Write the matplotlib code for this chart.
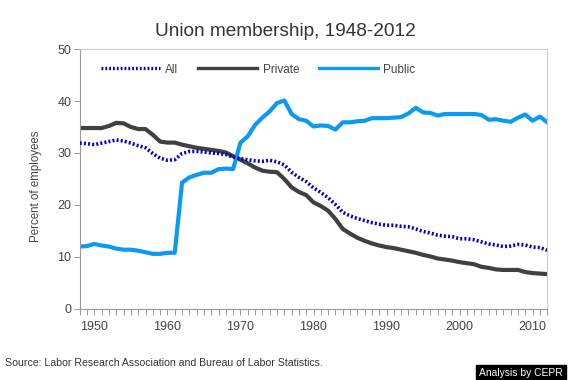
import matplotlib
matplotlib.use("Agg")
import matplotlib.pyplot as plt
from matplotlib.ticker import MultipleLocator

plt.rcParams['font.family'] = ['Liberation Sans', 'DejaVu Sans']

years = list(range(1948, 2013))

all_workers = [31.9, 31.8, 31.6, 31.9, 32.2, 32.5, 32.3, 31.9, 31.4, 31.0,
               29.9, 29.0, 28.6, 28.7, 29.9, 30.3, 30.3, 30.2, 30.0, 29.9,
               29.7, 29.2, 28.9, 28.7, 28.5, 28.4, 28.6, 28.3, 27.7, 26.3,
               25.3, 24.5, 23.3, 22.4, 21.4, 20.1, 18.6, 17.9, 17.4, 17.0,
               16.6, 16.3, 16.1, 16.1, 15.9, 15.8, 15.4, 14.9, 14.6, 14.2,
               14.0, 13.9, 13.5, 13.5, 13.3, 12.9, 12.5, 12.3, 12.0, 12.1,
               12.4, 12.3, 11.9, 11.8, 11.3]

private = [34.8, 34.8, 34.8, 34.8, 35.2, 35.8, 35.7, 35.0, 34.6, 34.6,
           33.5, 32.2, 32.0, 32.0, 31.6, 31.3, 31.0, 30.8, 30.6, 30.4,
           30.1, 29.4, 28.7, 28.0, 27.2, 26.6, 26.4, 26.3, 25.0, 23.4,
           22.5, 21.9, 20.5, 19.8, 18.9, 17.3, 15.4, 14.5, 13.7, 13.1,
           12.6, 12.2, 11.9, 11.7, 11.4, 11.1, 10.8, 10.4, 10.1, 9.7,
           9.5, 9.3, 9.0, 8.8, 8.6, 8.1, 7.9, 7.6, 7.5, 7.5,
           7.5, 7.1, 6.9, 6.8, 6.7]

public = [12.0, 12.1, 12.5, 12.2, 12.0, 11.6, 11.4, 11.4, 11.2, 10.9,
          10.6, 10.6, 10.8, 10.8, 24.3, 25.3, 25.8, 26.2, 26.2, 26.9,
          27.0, 26.9, 32.0, 33.2, 35.4, 36.8, 38.0, 39.6, 40.1, 37.5,
          36.5, 36.2, 35.1, 35.3, 35.2, 34.5, 35.9, 35.9, 36.1, 36.2,
          36.7, 36.7, 36.7, 36.8, 36.9, 37.6, 38.7, 37.8, 37.7, 37.2,
          37.5, 37.5, 37.5, 37.5, 37.5, 37.3, 36.4, 36.5, 36.2, 36.0,
          36.8, 37.4, 36.2, 37.0, 35.9]

series_labels = ["All", "Private", "Public"]
x_tick_years = [1950, 1960, 1970, 1980, 1990, 2000, 2010]

fig = plt.figure(figsize=(5.7, 3.8), dpi=100)
ax = fig.add_axes([0.140, 0.187, 0.820, 0.684])

ax.plot(years, all_workers, color="#0000c8", lw=2.6, linestyle=(0, (0.55, 0.6)),
        label=series_labels[0], zorder=3)
ax.plot(years, private, color="#404040", lw=3.0, label=series_labels[1],
        solid_joinstyle="round", zorder=2)
ax.plot(years, public, color="#0a9af2", lw=3.0, label=series_labels[2],
        solid_joinstyle="round", zorder=2)

ax.set_xlim(1948, 2012)
ax.set_ylim(0, 50)
ax.set_xticks(x_tick_years)
ax.xaxis.set_minor_locator(MultipleLocator(1))
ax.set_yticks([0, 10, 20, 30, 40, 50])

ax.tick_params(axis="x", which="both", direction="out", length=4, width=0.7,
               color="#999999", labelsize=9, labelcolor="#444444", pad=5)
ax.tick_params(axis="y", which="both", direction="out", length=4, width=0.7,
               color="#999999", labelsize=9, labelcolor="#444444", pad=2)

for s in ["left", "bottom"]:
    ax.spines[s].set_color("#999999")
    ax.spines[s].set_linewidth(0.8)
for s in ["top", "right"]:
    ax.spines[s].set_color("#cccccc")
    ax.spines[s].set_linewidth(0.8)

ax.set_ylabel("Percent of employees", fontsize=8.3, color="#444444")
ax.yaxis.set_label_coords(-0.08, 0.47)

fig.text(0.5, 0.918, "Union membership, 1948-2012", ha="center", va="center",
         fontsize=13.7, color="#333333")

leg = ax.legend(loc="upper left", bbox_to_anchor=(0.022, 0.985), ncol=3,
                frameon=False, fontsize=8.5, handlelength=5.0, handletextpad=0.45,
                columnspacing=1.7, labelcolor="#444444")
for h in leg.get_lines():
    h.set_linewidth(2.4)

fig.text(0.008, 0.045, "Source: Labor Research Association and Bureau of Labor Statistics.",
         fontsize=7.6, color="#333333", ha="left", va="center")
fig.text(0.988, 0.004, "Analysis by CEPR", fontsize=7.4, color="white",
         ha="right", va="bottom",
         bbox=dict(boxstyle="square,pad=0.3", facecolor="black", edgecolor="black"))

fig.savefig("out.png", dpi=100)
